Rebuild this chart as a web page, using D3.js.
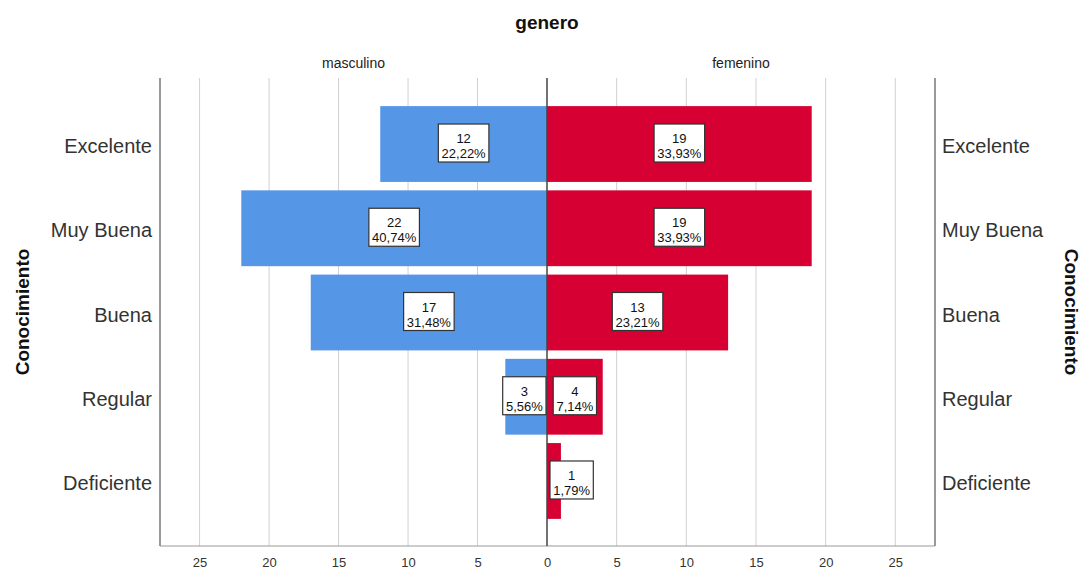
<!doctype html>
<html lang="es">
  <head>
    <meta charset="utf-8">
    <title>Conocimiento por genero</title>
    <style>
      body { margin: 0; background: #fff; }
      text { font-family: "Liberation Sans", Arial, sans-serif; }
    </style>
  </head>
  <body>
    <script src="https://cdn.jsdelivr.net/npm/d3@7/dist/d3.min.js"></script>
    <script>
      var categories = ["Excelente", "Muy Buena", "Buena", "Regular", "Deficiente"];
      var masculino = [12, 22, 17, 3, 0];
      var femenino  = [19, 19, 13, 4, 1];
      var pctMasculino = ["22,22%", "40,74%", "31,48%", "5,56%", ""];
      var pctFemenino  = ["33,93%", "33,93%", "23,21%", "7,14%", "1,79%"];
      var tickValues = [0, 5, 10, 15, 20, 25];

      var W = 1084, H = 570;
      var plotTop = 78, plotBottom = 546, plotLeft = 160, mid = 547, plotRight = 935;

      var svg = d3.select("body").append("svg")
        .attr("width", W)
        .attr("height", H);

      var xL = d3.scaleLinear().domain([0, 27.85]).range([mid, plotLeft]);
      var xR = d3.scaleLinear().domain([0, 27.85]).range([mid, plotRight]);

      var y = d3.scaleBand()
        .domain(categories)
        .range([101.9, 523.1])
        .paddingInner(0.1)
        .paddingOuter(0.05);

      // grid lines
      var grid = svg.append("g");
      tickValues.filter(function(d){ return d > 0; }).forEach(function(t){
        grid.append("line").attr("x1", xL(t)).attr("x2", xL(t))
          .attr("y1", plotTop).attr("y2", plotBottom).attr("stroke", "#d0d0d0");
        grid.append("line").attr("x1", xR(t)).attr("x2", xR(t))
          .attr("y1", plotTop).attr("y2", plotBottom).attr("stroke", "#d0d0d0");
      });

      var rows = categories.map(function(c, i){
        return { cat: c, m: masculino[i], f: femenino[i], pm: pctMasculino[i], pf: pctFemenino[i] };
      });

      // bars
      svg.selectAll(".barm")
        .data(rows.filter(function(d){ return d.m > 0; }))
        .enter().append("rect")
        .attr("x", function(d){ return xL(d.m); })
        .attr("y", function(d){ return y(d.cat); })
        .attr("width", function(d){ return mid - xL(d.m); })
        .attr("height", y.bandwidth())
        .attr("fill", "#5596e6");

      svg.selectAll(".barf")
        .data(rows.filter(function(d){ return d.f > 0; }))
        .enter().append("rect")
        .attr("x", mid)
        .attr("y", function(d){ return y(d.cat); })
        .attr("width", function(d){ return xR(d.f) - mid; })
        .attr("height", y.bandwidth())
        .attr("fill", "#d60032");

      // frame
      svg.append("line").attr("x1", plotLeft).attr("x2", plotLeft).attr("y1", plotTop).attr("y2", plotBottom)
        .attr("stroke", "#777").attr("stroke-width", 1.5);
      svg.append("line").attr("x1", plotRight).attr("x2", plotRight).attr("y1", plotTop).attr("y2", plotBottom)
        .attr("stroke", "#777").attr("stroke-width", 1.5);
      svg.append("line").attr("x1", plotLeft).attr("x2", plotRight).attr("y1", plotBottom).attr("y2", plotBottom)
        .attr("stroke", "#999").attr("stroke-width", 1);
      svg.append("line").attr("x1", mid).attr("x2", mid).attr("y1", plotTop).attr("y2", plotBottom)
        .attr("stroke", "#444").attr("stroke-width", 1.5);

      // value boxes
      function addBox(cx, cy, n, pct, side) {
        var g = svg.append("g");
        var t = g.append("text").attr("text-anchor", "middle").attr("font-size", 13).attr("fill", "#111");
        t.append("tspan").attr("x", 0).attr("y", -3).text(n);
        t.append("tspan").attr("x", 0).attr("y", 12).text(pct);
        var bw = t.node().getBBox().width + 6, bh = 38;
        if (side == "L" && cx + bw / 2 > mid - 1) cx = mid - 1 - bw / 2;
        if (side == "R" && cx - bw / 2 < mid + 3) cx = mid + 3 + bw / 2;
        g.insert("rect", "text")
          .attr("x", -bw / 2).attr("y", -bh / 2 - 3)
          .attr("width", bw).attr("height", bh)
          .attr("fill", "#fff").attr("stroke", "#333").attr("stroke-width", 1.2);
        g.attr("transform", "translate(" + cx + "," + (cy + 2) + ")");
      }

      rows.forEach(function(d){
        var cy = y(d.cat) + y.bandwidth() / 2;
        if (d.m > 0) addBox(xL(d.m / 2), cy, d.m, d.pm, "L");
        if (d.f > 0) addBox(xR(d.f / 2), cy, d.f, d.pf, "R");
      });

      // category labels
      svg.selectAll(".catL").data(categories).enter().append("text")
        .attr("x", 152).attr("y", function(d){ return y(d) + y.bandwidth() / 2 + 9; })
        .attr("text-anchor", "end").attr("font-size", 20).attr("fill", "#333")
        .text(function(d){ return d; });
      svg.selectAll(".catR").data(categories).enter().append("text")
        .attr("x", 942).attr("y", function(d){ return y(d) + y.bandwidth() / 2 + 9; })
        .attr("text-anchor", "start").attr("font-size", 20).attr("fill", "#333")
        .text(function(d){ return d; });

      // bottom axes
      var axL = svg.append("g").attr("transform", "translate(0," + (plotBottom + 9) + ")")
        .call(d3.axisBottom(xL).tickValues(tickValues.filter(function(d){ return d > 0; })).tickSize(0));
      var axR = svg.append("g").attr("transform", "translate(0," + (plotBottom + 9) + ")")
        .call(d3.axisBottom(xR).tickValues(tickValues).tickSize(0));
      [axL, axR].forEach(function(a){
        a.select(".domain").remove();
        a.selectAll("text").attr("font-size", 13).attr("fill", "#333")
          .attr("font-family", "'Liberation Sans', Arial, sans-serif");
      });

      // titles
      svg.append("text").attr("x", mid).attr("y", 29).attr("text-anchor", "middle")
        .attr("font-size", 19).attr("font-weight", "bold").attr("fill", "#111").text("genero");
      svg.append("text").attr("x", (plotLeft + mid) / 2).attr("y", 68).attr("text-anchor", "middle")
        .attr("font-size", 14).attr("fill", "#222").text("masculino");
      svg.append("text").attr("x", (mid + plotRight) / 2).attr("y", 68).attr("text-anchor", "middle")
        .attr("font-size", 14).attr("fill", "#222").text("femenino");

      svg.append("text").attr("transform", "translate(29,312) rotate(-90)")
        .attr("text-anchor", "middle").attr("font-size", 19).attr("font-weight", "bold")
        .attr("fill", "#111").text("Conocimiento");
      svg.append("text").attr("transform", "translate(1065,312) rotate(90)")
        .attr("text-anchor", "middle").attr("font-size", 19).attr("font-weight", "bold")
        .attr("fill", "#111").text("Conocimiento");
    </script>
  </body>
</html>
